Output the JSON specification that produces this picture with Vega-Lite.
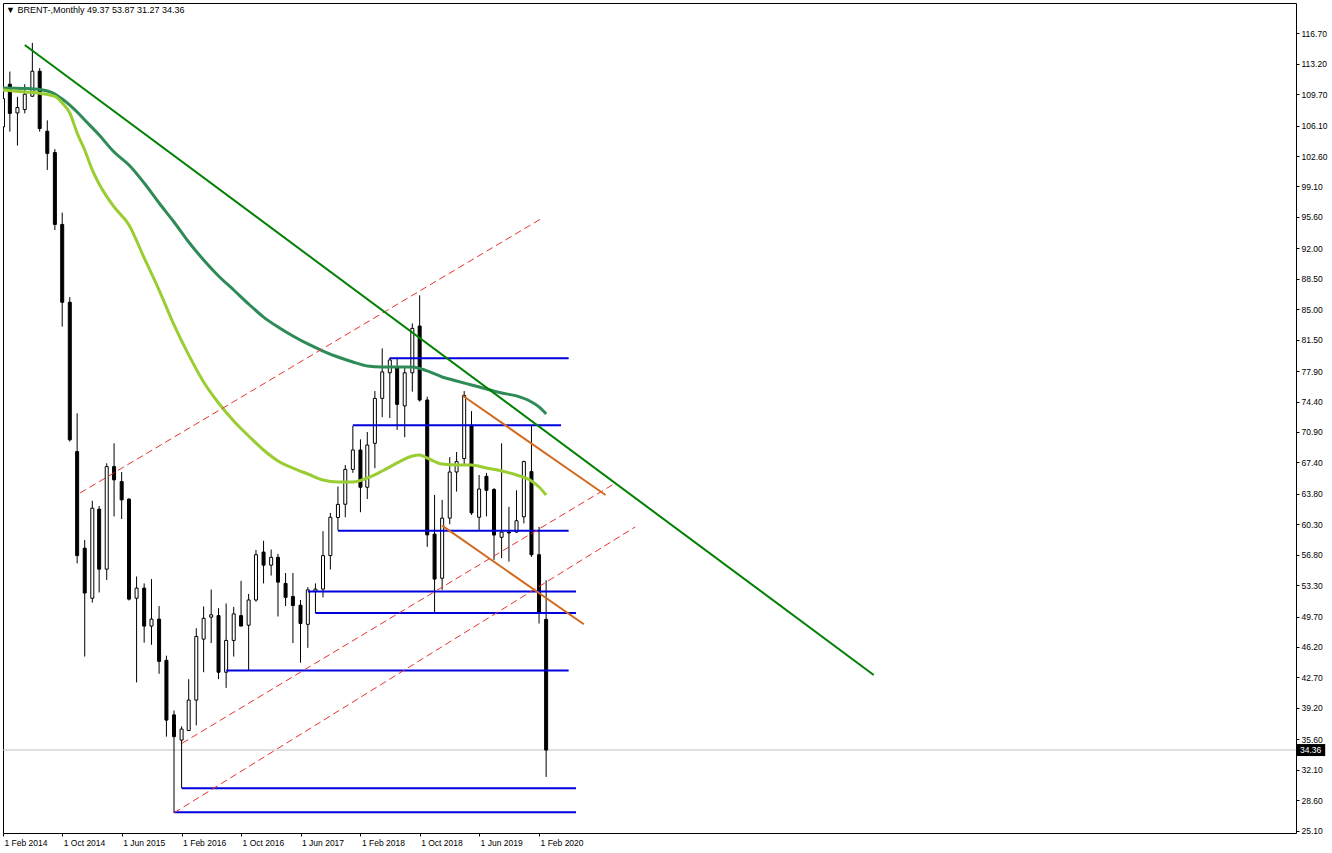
{
  "$schema": "https://vega.github.io/schema/vega-lite/v6.json",
  "width": 1293,
  "height": 830,
  "autosize": "none",
  "padding": {"left": 3, "top": 3, "right": 36, "bottom": 20},
  "background": "white",
  "title": {
    "text": "▼ BRENT-,Monthly  49.37 53.87 31.27 34.36",
    "anchor": "start",
    "frame": "group",
    "orient": "top",
    "baseline": "top",
    "offset": -12,
    "dx": 3,
    "font": "Liberation Sans",
    "fontSize": 9,
    "fontWeight": "normal",
    "color": "black"
  },
  "datasets": {
    "candles": [
      {"date": "2014-02-01", "open": 105.95, "high": 110.6, "low": 105.4, "close": 109.2},
      {"date": "2014-03-01", "open": 110.85, "high": 112.3, "low": 105.4, "close": 107.5},
      {"date": "2014-04-01", "open": 107.55, "high": 109.4, "low": 103.8, "close": 108.17},
      {"date": "2014-05-01", "open": 107.94, "high": 110.85, "low": 107.5, "close": 109.7},
      {"date": "2014-06-01", "open": 109.47, "high": 115.6, "low": 109.4, "close": 112.34},
      {"date": "2014-07-01", "open": 112.34, "high": 112.7, "low": 105.4, "close": 105.76},
      {"date": "2014-08-01", "open": 105.45, "high": 106.7, "low": 101.0, "close": 102.9},
      {"date": "2014-09-01", "open": 103.0, "high": 103.4, "low": 94.1, "close": 94.74},
      {"date": "2014-10-01", "open": 94.74, "high": 96.1, "low": 83.0, "close": 85.8},
      {"date": "2014-11-01", "open": 85.8, "high": 86.4, "low": 69.8, "close": 70.0},
      {"date": "2014-12-01", "open": 68.65, "high": 73.05, "low": 55.8, "close": 56.7},
      {"date": "2015-01-01", "open": 57.55, "high": 58.5, "low": 45.1, "close": 52.4},
      {"date": "2015-02-01", "open": 51.8, "high": 63.0, "low": 51.3, "close": 62.14},
      {"date": "2015-03-01", "open": 62.03, "high": 62.4, "low": 52.46, "close": 55.14},
      {"date": "2015-04-01", "open": 55.14, "high": 67.3, "low": 53.9, "close": 66.92},
      {"date": "2015-05-01", "open": 66.92, "high": 69.6, "low": 61.2, "close": 65.4},
      {"date": "2015-06-01", "open": 65.2, "high": 66.3, "low": 60.9, "close": 63.1},
      {"date": "2015-07-01", "open": 63.18, "high": 63.3, "low": 51.54, "close": 51.7},
      {"date": "2015-08-01", "open": 51.8, "high": 54.3, "low": 42.13, "close": 52.96},
      {"date": "2015-09-01", "open": 52.96, "high": 53.5, "low": 46.7, "close": 48.6},
      {"date": "2015-10-01", "open": 48.6, "high": 54.0, "low": 46.45, "close": 49.4},
      {"date": "2015-11-01", "open": 49.4, "high": 50.9, "low": 43.12, "close": 44.55},
      {"date": "2015-12-01", "open": 44.67, "high": 45.2, "low": 35.9, "close": 37.8},
      {"date": "2016-01-01", "open": 38.4, "high": 38.9, "low": 27.13, "close": 35.9},
      {"date": "2016-02-01", "open": 35.5, "high": 37.08, "low": 30.0, "close": 36.77},
      {"date": "2016-03-01", "open": 36.6, "high": 42.5, "low": 36.6, "close": 40.1},
      {"date": "2016-04-01", "open": 40.1, "high": 48.35, "low": 37.2, "close": 47.4},
      {"date": "2016-05-01", "open": 47.1, "high": 50.85, "low": 43.3, "close": 49.5},
      {"date": "2016-06-01", "open": 49.63, "high": 52.8, "low": 46.65, "close": 49.9},
      {"date": "2016-07-01", "open": 49.8, "high": 50.66, "low": 42.5, "close": 43.3},
      {"date": "2016-08-01", "open": 43.3, "high": 51.2, "low": 41.5, "close": 46.95},
      {"date": "2016-09-01", "open": 46.95, "high": 50.8, "low": 45.1, "close": 50.0},
      {"date": "2016-10-01", "open": 49.8, "high": 53.8, "low": 48.6, "close": 48.6},
      {"date": "2016-11-01", "open": 48.7, "high": 52.3, "low": 43.5, "close": 51.6},
      {"date": "2016-12-01", "open": 51.6, "high": 57.35, "low": 51.4, "close": 56.8},
      {"date": "2017-01-01", "open": 57.1, "high": 58.4, "low": 53.5, "close": 55.6},
      {"date": "2017-02-01", "open": 55.6, "high": 57.4, "low": 54.4, "close": 56.5},
      {"date": "2017-03-01", "open": 56.5, "high": 56.9, "low": 49.7, "close": 53.65},
      {"date": "2017-04-01", "open": 53.5, "high": 54.7, "low": 50.9, "close": 51.9},
      {"date": "2017-05-01", "open": 52.0, "high": 54.7, "low": 46.65, "close": 50.97},
      {"date": "2017-06-01", "open": 51.0, "high": 51.6, "low": 44.4, "close": 48.9},
      {"date": "2017-07-01", "open": 48.8, "high": 53.07, "low": 46.1, "close": 52.76},
      {"date": "2017-08-01", "open": 52.6, "high": 53.5, "low": 50.1, "close": 52.85},
      {"date": "2017-09-01", "open": 52.85, "high": 59.5, "low": 51.9, "close": 56.7},
      {"date": "2017-10-01", "open": 56.7, "high": 61.6, "low": 55.1, "close": 61.1},
      {"date": "2017-11-01", "open": 61.07, "high": 64.63, "low": 59.6, "close": 62.58},
      {"date": "2017-12-01", "open": 62.6, "high": 67.1, "low": 61.1, "close": 66.6},
      {"date": "2018-01-01", "open": 66.6, "high": 71.6, "low": 66.2, "close": 68.83},
      {"date": "2018-02-01", "open": 68.83, "high": 70.05, "low": 61.68, "close": 64.55},
      {"date": "2018-03-01", "open": 64.55, "high": 70.9, "low": 63.2, "close": 69.4},
      {"date": "2018-04-01", "open": 69.6, "high": 75.6, "low": 66.74, "close": 74.76},
      {"date": "2018-05-01", "open": 74.76, "high": 80.5, "low": 72.6, "close": 77.8},
      {"date": "2018-06-01", "open": 77.7, "high": 79.43, "low": 72.5, "close": 79.17},
      {"date": "2018-07-01", "open": 78.3, "high": 79.43, "low": 71.13, "close": 74.07},
      {"date": "2018-08-01", "open": 73.9, "high": 78.3, "low": 70.3, "close": 77.7},
      {"date": "2018-09-01", "open": 77.7, "high": 83.38, "low": 75.53, "close": 82.8},
      {"date": "2018-10-01", "open": 83.07, "high": 86.6, "low": 74.4, "close": 74.57},
      {"date": "2018-11-01", "open": 74.57, "high": 74.95, "low": 57.7, "close": 59.08},
      {"date": "2018-12-01", "open": 59.16, "high": 63.67, "low": 50.1, "close": 54.0},
      {"date": "2019-01-01", "open": 54.1, "high": 63.1, "low": 52.77, "close": 61.0},
      {"date": "2019-02-01", "open": 61.0, "high": 68.0, "low": 60.3, "close": 66.3},
      {"date": "2019-03-01", "open": 66.3, "high": 68.6, "low": 64.05, "close": 67.5},
      {"date": "2019-04-01", "open": 67.85, "high": 75.6, "low": 67.1, "close": 75.1},
      {"date": "2019-05-01", "open": 71.67, "high": 73.3, "low": 61.37, "close": 61.6},
      {"date": "2019-06-01", "open": 61.1, "high": 65.96, "low": 59.54, "close": 64.35},
      {"date": "2019-07-01", "open": 65.8, "high": 66.2, "low": 61.2, "close": 64.2},
      {"date": "2019-08-01", "open": 64.3, "high": 64.45, "low": 56.2, "close": 59.06},
      {"date": "2019-09-01", "open": 58.8, "high": 69.6, "low": 56.4, "close": 59.4},
      {"date": "2019-10-01", "open": 59.4, "high": 62.3, "low": 56.0, "close": 59.3},
      {"date": "2019-11-01", "open": 59.4, "high": 64.2, "low": 59.35, "close": 60.7},
      {"date": "2019-12-01", "open": 61.16, "high": 67.6, "low": 60.4, "close": 67.5},
      {"date": "2020-01-01", "open": 66.35, "high": 71.67, "low": 56.55, "close": 56.8},
      {"date": "2020-02-01", "open": 56.8, "high": 60.0, "low": 48.9, "close": 50.1},
      {"date": "2020-03-01", "open": 49.37, "high": 53.87, "low": 31.27, "close": 34.36}
    ],
    "ma": [
      {"date": "2014-02-01", "series": "slow", "value": 110.42},
      {"date": "2014-05-01", "series": "slow", "value": 110.36},
      {"date": "2014-07-01", "series": "slow", "value": 110.24},
      {"date": "2014-08-01", "series": "slow", "value": 110.07},
      {"date": "2014-09-01", "series": "slow", "value": 109.73},
      {"date": "2014-10-01", "series": "slow", "value": 109.15},
      {"date": "2014-11-01", "series": "slow", "value": 108.46},
      {"date": "2014-12-01", "series": "slow", "value": 107.66},
      {"date": "2015-01-01", "series": "slow", "value": 106.74},
      {"date": "2015-03-01", "series": "slow", "value": 105.02},
      {"date": "2015-05-01", "series": "slow", "value": 103.06},
      {"date": "2015-07-01", "series": "slow", "value": 101.57},
      {"date": "2015-09-01", "series": "slow", "value": 99.5},
      {"date": "2015-11-01", "series": "slow", "value": 97.2},
      {"date": "2016-01-01", "series": "slow", "value": 95.02},
      {"date": "2016-03-01", "series": "slow", "value": 92.72},
      {"date": "2016-05-01", "series": "slow", "value": 90.66},
      {"date": "2016-07-01", "series": "slow", "value": 88.82},
      {"date": "2016-09-01", "series": "slow", "value": 87.21},
      {"date": "2016-11-01", "series": "slow", "value": 85.6},
      {"date": "2017-01-01", "series": "slow", "value": 84.1},
      {"date": "2017-03-01", "series": "slow", "value": 82.96},
      {"date": "2017-05-01", "series": "slow", "value": 81.93},
      {"date": "2017-07-01", "series": "slow", "value": 81.01},
      {"date": "2017-09-01", "series": "slow", "value": 80.2},
      {"date": "2017-11-01", "series": "slow", "value": 79.51},
      {"date": "2018-01-01", "series": "slow", "value": 78.94},
      {"date": "2018-03-01", "series": "slow", "value": 78.48},
      {"date": "2018-05-01", "series": "slow", "value": 78.37},
      {"date": "2018-07-01", "series": "slow", "value": 78.37},
      {"date": "2018-09-01", "series": "slow", "value": 78.37},
      {"date": "2018-11-01", "series": "slow", "value": 77.91},
      {"date": "2019-01-01", "series": "slow", "value": 77.22},
      {"date": "2019-03-01", "series": "slow", "value": 76.76},
      {"date": "2019-05-01", "series": "slow", "value": 76.3},
      {"date": "2019-07-01", "series": "slow", "value": 75.84},
      {"date": "2019-09-01", "series": "slow", "value": 75.38},
      {"date": "2019-11-01", "series": "slow", "value": 75.04},
      {"date": "2020-01-01", "series": "slow", "value": 74.35},
      {"date": "2020-02-01", "series": "slow", "value": 73.78},
      {"date": "2020-03-01", "series": "slow", "value": 72.97},
      {"date": "2014-02-01", "series": "fast", "value": 110.19},
      {"date": "2014-05-01", "series": "fast", "value": 109.96},
      {"date": "2014-07-01", "series": "fast", "value": 109.81},
      {"date": "2014-09-01", "series": "fast", "value": 109.44},
      {"date": "2014-10-01", "series": "fast", "value": 108.69},
      {"date": "2014-11-01", "series": "fast", "value": 107.54},
      {"date": "2014-12-01", "series": "fast", "value": 105.25},
      {"date": "2015-01-01", "series": "fast", "value": 103.29},
      {"date": "2015-02-01", "series": "fast", "value": 101.0},
      {"date": "2015-03-01", "series": "fast", "value": 99.39},
      {"date": "2015-05-01", "series": "fast", "value": 96.75},
      {"date": "2015-07-01", "series": "fast", "value": 94.68},
      {"date": "2015-09-01", "series": "fast", "value": 90.9},
      {"date": "2015-11-01", "series": "fast", "value": 87.2},
      {"date": "2016-01-01", "series": "fast", "value": 83.2},
      {"date": "2016-03-01", "series": "fast", "value": 79.75},
      {"date": "2016-05-01", "series": "fast", "value": 76.64},
      {"date": "2016-07-01", "series": "fast", "value": 74.23},
      {"date": "2016-09-01", "series": "fast", "value": 72.16},
      {"date": "2016-11-01", "series": "fast", "value": 70.44},
      {"date": "2017-01-01", "series": "fast", "value": 68.83},
      {"date": "2017-03-01", "series": "fast", "value": 67.57},
      {"date": "2017-05-01", "series": "fast", "value": 66.76},
      {"date": "2017-07-01", "series": "fast", "value": 66.07},
      {"date": "2017-09-01", "series": "fast", "value": 65.38},
      {"date": "2017-11-01", "series": "fast", "value": 65.15},
      {"date": "2018-01-01", "series": "fast", "value": 65.15},
      {"date": "2018-03-01", "series": "fast", "value": 65.61},
      {"date": "2018-05-01", "series": "fast", "value": 66.42},
      {"date": "2018-07-01", "series": "fast", "value": 67.34},
      {"date": "2018-09-01", "series": "fast", "value": 68.14},
      {"date": "2018-10-01", "series": "fast", "value": 68.26},
      {"date": "2018-11-01", "series": "fast", "value": 67.91},
      {"date": "2019-01-01", "series": "fast", "value": 67.22},
      {"date": "2019-03-01", "series": "fast", "value": 67.11},
      {"date": "2019-05-01", "series": "fast", "value": 67.11},
      {"date": "2019-07-01", "series": "fast", "value": 66.76},
      {"date": "2019-09-01", "series": "fast", "value": 66.42},
      {"date": "2019-11-01", "series": "fast", "value": 65.96},
      {"date": "2020-01-01", "series": "fast", "value": 65.27},
      {"date": "2020-02-01", "series": "fast", "value": 64.58},
      {"date": "2020-03-01", "series": "fast", "value": 63.66}
    ],
    "trendlines": [
      {"kind": "trend", "start": "2014-05-01", "startValue": 115.36, "end": "2023-10-31", "endValue": 42.98},
      {"kind": "channel", "start": "2014-12-13", "startValue": 63.89, "end": "2020-02-08", "endValue": 95.37},
      {"kind": "channel", "start": "2016-02-03", "startValue": 35.14, "end": "2020-12-10", "endValue": 65.04},
      {"kind": "channel", "start": "2016-01-02", "startValue": 27.16, "end": "2021-02-28", "endValue": 59.99},
      {"kind": "wedge", "start": "2019-03-28", "startValue": 75.03, "end": "2020-10-30", "endValue": 63.66},
      {"kind": "wedge", "start": "2019-01-01", "startValue": 60.14, "end": "2020-08-02", "endValue": 48.81}
    ],
    "levels": [
      {"start": "2018-06-01", "end": "2020-06-01", "price": 79.36},
      {"start": "2018-01-01", "end": "2020-05-01", "price": 71.67},
      {"start": "2017-11-01", "end": "2020-06-01", "price": 59.54},
      {"start": "2017-07-01", "end": "2020-07-01", "price": 52.57},
      {"start": "2017-08-01", "end": "2020-07-01", "price": 50.1},
      {"start": "2016-08-01", "end": "2020-06-01", "price": 43.5},
      {"start": "2016-02-01", "end": "2020-07-01", "price": 29.98},
      {"start": "2016-01-01", "end": "2020-07-01", "price": 27.2}
    ],
    "last": [{"price": 34.36}]
  },
  "encoding": {
    "x": {
      "field": "date",
      "type": "temporal",
      "scale": {
        "type": "utc",
        "domain": [
          {"year": 2014, "month": 2, "date": 1, "utc": true},
          {"year": 2028, "month": 7, "date": 22, "utc": true}
        ],
        "nice": false,
        "padding": 0
      },
      "axis": {
        "orient": "bottom",
        "title": null,
        "values": [
          {"year": 2014, "month": 2, "date": 1, "utc": true},
          {"year": 2014, "month": 10, "date": 1, "utc": true},
          {"year": 2015, "month": 6, "date": 1, "utc": true},
          {"year": 2016, "month": 2, "date": 1, "utc": true},
          {"year": 2016, "month": 10, "date": 1, "utc": true},
          {"year": 2017, "month": 6, "date": 1, "utc": true},
          {"year": 2018, "month": 2, "date": 1, "utc": true},
          {"year": 2018, "month": 10, "date": 1, "utc": true},
          {"year": 2019, "month": 6, "date": 1, "utc": true},
          {"year": 2020, "month": 2, "date": 1, "utc": true}
        ],
        "format": "%-d %b %Y",
        "labelAlign": "left",
        "labelBaseline": "top",
        "labelOffset": 1,
        "labelPadding": 2,
        "labelFlush": false,
        "labelBound": false,
        "labelOverlap": false,
        "tickSize": 3,
        "tickColor": "black",
        "domain": false,
        "grid": false
      }
    }
  },
  "layer": [
    {
      "data": {"name": "last"},
      "mark": {"type": "rule", "color": "#c0c0c0", "strokeWidth": 1},
      "encoding": {
        "x": null,
        "y": {
          "field": "price",
          "type": "quantitative",
          "scale": {"domain": [24.83, 120.18], "nice": false, "zero": false},
          "axis": {"orient": "right", "title": null, "values": [116.7, 113.2, 109.7, 106.1, 102.6, 99.1, 95.6, 92, 88.5, 85, 81.5, 77.9, 74.4, 70.9, 67.4, 63.8, 60.3, 56.8, 53.3, 49.7, 46.2, 42.7, 39.2, 35.6, 32.1, 28.6, 25.1], "format": ".2f", "labelAlign": "left", "labelBaseline": "middle", "labelPadding": 2, "labelFlush": false, "labelBound": false, "labelOverlap": false, "tickSize": 3, "tickColor": "black", "domain": false, "grid": false}
        }
      }
    },
    {
      "data": {"name": "candles"},
      "mark": {"type": "rule", "color": "black", "strokeWidth": 1, "clip": true},
      "encoding": {
        "y": {"field": "low", "type": "quantitative", "title": null,
          "axis": {"orient": "right", "title": null, "values": [116.7, 113.2, 109.7, 106.1, 102.6, 99.1, 95.6, 92, 88.5, 85, 81.5, 77.9, 74.4, 70.9, 67.4, 63.8, 60.3, 56.8, 53.3, 49.7, 46.2, 42.7, 39.2, 35.6, 32.1, 28.6, 25.1], "format": ".2f", "labelAlign": "left", "labelBaseline": "middle", "labelPadding": 2, "labelFlush": false, "labelBound": false, "labelOverlap": false, "tickSize": 3, "tickColor": "black", "domain": false, "grid": false}},
        "y2": {"field": "high"}
      }
    },
    {
      "data": {"name": "candles"},
      "mark": {"type": "bar", "size": 3, "stroke": "black", "strokeWidth": 1, "clip": true},
      "encoding": {
        "y": {"field": "open", "type": "quantitative",
          "axis": {"orient": "right", "title": null, "values": [116.7, 113.2, 109.7, 106.1, 102.6, 99.1, 95.6, 92, 88.5, 85, 81.5, 77.9, 74.4, 70.9, 67.4, 63.8, 60.3, 56.8, 53.3, 49.7, 46.2, 42.7, 39.2, 35.6, 32.1, 28.6, 25.1], "format": ".2f", "labelAlign": "left", "labelBaseline": "middle", "labelPadding": 2, "labelFlush": false, "labelBound": false, "labelOverlap": false, "tickSize": 3, "tickColor": "black", "domain": false, "grid": false}},
        "y2": {"field": "close"},
        "fill": {"condition": {"test": "datum.close < datum.open", "value": "black"}, "value": "white"}
      }
    },
    {
      "data": {"name": "ma"},
      "transform": [{"filter": "datum.series === 'slow'"}],
      "mark": {"type": "line", "color": "#2e8b57", "strokeWidth": 3, "interpolate": "monotone"},
      "encoding": {
        "y": {"field": "value", "type": "quantitative",
          "axis": {"orient": "right", "title": null, "values": [116.7, 113.2, 109.7, 106.1, 102.6, 99.1, 95.6, 92, 88.5, 85, 81.5, 77.9, 74.4, 70.9, 67.4, 63.8, 60.3, 56.8, 53.3, 49.7, 46.2, 42.7, 39.2, 35.6, 32.1, 28.6, 25.1], "format": ".2f", "labelAlign": "left", "labelBaseline": "middle", "labelPadding": 2, "labelFlush": false, "labelBound": false, "labelOverlap": false, "tickSize": 3, "tickColor": "black", "domain": false, "grid": false}}
      }
    },
    {
      "data": {"name": "ma"},
      "transform": [{"filter": "datum.series === 'fast'"}],
      "mark": {"type": "line", "color": "#9acd32", "strokeWidth": 3, "interpolate": "monotone"},
      "encoding": {
        "y": {"field": "value", "type": "quantitative",
          "axis": {"orient": "right", "title": null, "values": [116.7, 113.2, 109.7, 106.1, 102.6, 99.1, 95.6, 92, 88.5, 85, 81.5, 77.9, 74.4, 70.9, 67.4, 63.8, 60.3, 56.8, 53.3, 49.7, 46.2, 42.7, 39.2, 35.6, 32.1, 28.6, 25.1], "format": ".2f", "labelAlign": "left", "labelBaseline": "middle", "labelPadding": 2, "labelFlush": false, "labelBound": false, "labelOverlap": false, "tickSize": 3, "tickColor": "black", "domain": false, "grid": false}}
      }
    },
    {
      "data": {"name": "levels"},
      "mark": {"type": "rule", "color": "#0000dd", "strokeWidth": 2},
      "encoding": {
        "x": {"field": "start", "type": "temporal"},
        "x2": {"field": "end"},
        "y": {"field": "price", "type": "quantitative",
          "axis": {"orient": "right", "title": null, "values": [116.7, 113.2, 109.7, 106.1, 102.6, 99.1, 95.6, 92, 88.5, 85, 81.5, 77.9, 74.4, 70.9, 67.4, 63.8, 60.3, 56.8, 53.3, 49.7, 46.2, 42.7, 39.2, 35.6, 32.1, 28.6, 25.1], "format": ".2f", "labelAlign": "left", "labelBaseline": "middle", "labelPadding": 2, "labelFlush": false, "labelBound": false, "labelOverlap": false, "tickSize": 3, "tickColor": "black", "domain": false, "grid": false}}
      }
    },
    {
      "data": {"name": "trendlines"},
      "transform": [{"filter": "datum.kind === 'channel'"}],
      "mark": {"type": "rule", "color": "#e8332f", "strokeWidth": 1, "strokeDash": [7, 4]},
      "encoding": {
        "x": {"field": "start", "type": "temporal"},
        "x2": {"field": "end"},
        "y": {"field": "startValue", "type": "quantitative",
          "axis": {"orient": "right", "title": null, "values": [116.7, 113.2, 109.7, 106.1, 102.6, 99.1, 95.6, 92, 88.5, 85, 81.5, 77.9, 74.4, 70.9, 67.4, 63.8, 60.3, 56.8, 53.3, 49.7, 46.2, 42.7, 39.2, 35.6, 32.1, 28.6, 25.1], "format": ".2f", "labelAlign": "left", "labelBaseline": "middle", "labelPadding": 2, "labelFlush": false, "labelBound": false, "labelOverlap": false, "tickSize": 3, "tickColor": "black", "domain": false, "grid": false}},
        "y2": {"field": "endValue"}
      }
    },
    {
      "data": {"name": "trendlines"},
      "transform": [{"filter": "datum.kind === 'wedge'"}],
      "mark": {"type": "rule", "color": "#d2691e", "strokeWidth": 2},
      "encoding": {
        "x": {"field": "start", "type": "temporal"},
        "x2": {"field": "end"},
        "y": {"field": "startValue", "type": "quantitative",
          "axis": {"orient": "right", "title": null, "values": [116.7, 113.2, 109.7, 106.1, 102.6, 99.1, 95.6, 92, 88.5, 85, 81.5, 77.9, 74.4, 70.9, 67.4, 63.8, 60.3, 56.8, 53.3, 49.7, 46.2, 42.7, 39.2, 35.6, 32.1, 28.6, 25.1], "format": ".2f", "labelAlign": "left", "labelBaseline": "middle", "labelPadding": 2, "labelFlush": false, "labelBound": false, "labelOverlap": false, "tickSize": 3, "tickColor": "black", "domain": false, "grid": false}},
        "y2": {"field": "endValue"}
      }
    },
    {
      "data": {"name": "trendlines"},
      "transform": [{"filter": "datum.kind === 'trend'"}],
      "mark": {"type": "rule", "color": "#008000", "strokeWidth": 2},
      "encoding": {
        "x": {"field": "start", "type": "temporal"},
        "x2": {"field": "end"},
        "y": {"field": "startValue", "type": "quantitative",
          "axis": {"orient": "right", "title": null, "values": [116.7, 113.2, 109.7, 106.1, 102.6, 99.1, 95.6, 92, 88.5, 85, 81.5, 77.9, 74.4, 70.9, 67.4, 63.8, 60.3, 56.8, 53.3, 49.7, 46.2, 42.7, 39.2, 35.6, 32.1, 28.6, 25.1], "format": ".2f", "labelAlign": "left", "labelBaseline": "middle", "labelPadding": 2, "labelFlush": false, "labelBound": false, "labelOverlap": false, "tickSize": 3, "tickColor": "black", "domain": false, "grid": false}},
        "y2": {"field": "endValue"}
      }
    },
    {
      "data": {"name": "last"},
      "mark": {"type": "point", "shape": "M0,-1H4.7V1H0Z", "size": 144, "filled": true, "color": "black", "opacity": 1, "strokeWidth": 0, "xOffset": 1, "clip": false},
      "encoding": {
        "x": {"value": "width"},
        "y": {"field": "price", "type": "quantitative",
          "axis": {"orient": "right", "title": null, "values": [116.7, 113.2, 109.7, 106.1, 102.6, 99.1, 95.6, 92, 88.5, 85, 81.5, 77.9, 74.4, 70.9, 67.4, 63.8, 60.3, 56.8, 53.3, 49.7, 46.2, 42.7, 39.2, 35.6, 32.1, 28.6, 25.1], "format": ".2f", "labelAlign": "left", "labelBaseline": "middle", "labelPadding": 2, "labelFlush": false, "labelBound": false, "labelOverlap": false, "tickSize": 3, "tickColor": "black", "domain": false, "grid": false}}
      }
    },
    {
      "data": {"name": "last"},
      "mark": {"type": "text", "color": "white", "align": "left", "baseline": "middle", "dx": 4, "font": "Liberation Sans", "fontSize": 8.5, "clip": false},
      "encoding": {
        "x": {"value": "width"},
        "y": {"field": "price", "type": "quantitative",
          "axis": {"orient": "right", "title": null, "values": [116.7, 113.2, 109.7, 106.1, 102.6, 99.1, 95.6, 92, 88.5, 85, 81.5, 77.9, 74.4, 70.9, 67.4, 63.8, 60.3, 56.8, 53.3, 49.7, 46.2, 42.7, 39.2, 35.6, 32.1, 28.6, 25.1], "format": ".2f", "labelAlign": "left", "labelBaseline": "middle", "labelPadding": 2, "labelFlush": false, "labelBound": false, "labelOverlap": false, "tickSize": 3, "tickColor": "black", "domain": false, "grid": false}},
        "text": {"field": "price", "type": "quantitative", "format": ".2f"}
      }
    }
  ],
  "config": {
    "view": {"stroke": "black", "strokeWidth": 1},
    "axis": {
      "labelFont": "Liberation Sans",
      "labelFontSize": 8.5,
      "labelColor": "black",
      "tickWidth": 1,
      "labelOverlap": false
    }
  }
}
